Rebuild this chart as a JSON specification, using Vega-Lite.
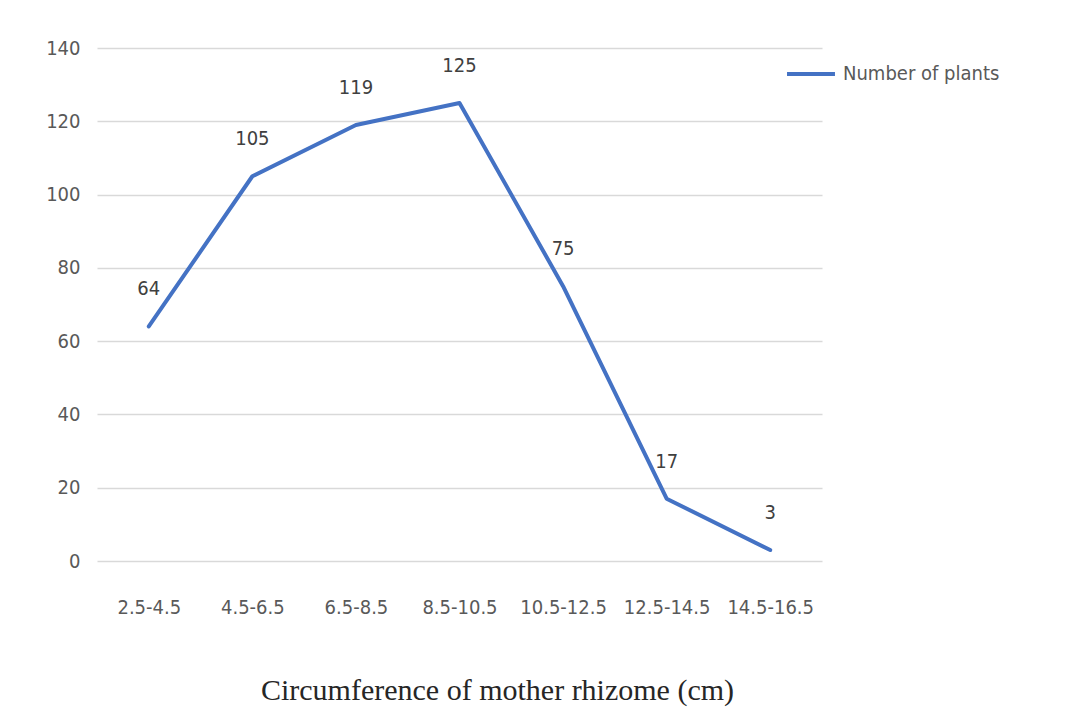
{
  "$schema": "https://vega.github.io/schema/vega-lite/v6.json",
  "width": 725,
  "height": 513,
  "autosize": {"type": "none"},
  "padding": {"left": 97, "top": 48, "right": 264, "bottom": 159},
  "background": "white",
  "config": {"view": {"stroke": null}},
  "data": {
    "values": [
      {"range": "2.5-4.5", "plants": 64, "series": "Number of plants"},
      {"range": "4.5-6.5", "plants": 105, "series": "Number of plants"},
      {"range": "6.5-8.5", "plants": 119, "series": "Number of plants"},
      {"range": "8.5-10.5", "plants": 125, "series": "Number of plants"},
      {"range": "10.5-12.5", "plants": 75, "series": "Number of plants"},
      {"range": "12.5-14.5", "plants": 17, "series": "Number of plants"},
      {"range": "14.5-16.5", "plants": 3, "series": "Number of plants"}
    ]
  },
  "encoding": {
    "x": {
      "field": "range",
      "type": "ordinal",
      "sort": null,
      "scale": {"type": "point", "padding": 0.5},
      "axis": {
        "title": "Circumference of mother rhizome (cm)",
        "titleFont": "Liberation Serif",
        "titleFontSize": 30,
        "titleFontWeight": "normal",
        "titleColor": "#262626",
        "titlePadding": 58,
        "titleX": 400,
        "labelAngle": 0,
        "labelFont": "DejaVu Sans Condensed, Lato",
        "labelFontSize": 20,
        "labelColor": "#595959",
        "labelPadding": 36,
        "domain": false,
        "ticks": false,
        "grid": false
      }
    },
    "y": {
      "field": "plants",
      "type": "quantitative",
      "scale": {"domain": [0, 140], "nice": false},
      "axis": {
        "title": null,
        "values": [0, 20, 40, 60, 80, 100, 120, 140],
        "labelFont": "DejaVu Sans Condensed, Lato",
        "labelFontSize": 20,
        "labelColor": "#595959",
        "labelPadding": 17,
        "domain": false,
        "ticks": false,
        "grid": true,
        "gridColor": "#d9d9d9",
        "gridWidth": 1.5
      }
    }
  },
  "layer": [
    {
      "mark": {"type": "line", "strokeWidth": 4, "strokeCap": "round", "strokeJoin": "round"},
      "encoding": {
        "color": {
          "field": "series",
          "type": "nominal",
          "scale": {"range": ["#4472C4"]},
          "legend": {
            "title": null,
            "orient": "none",
            "legendX": 688,
            "legendY": 0,
            "symbolType": "stroke",
            "symbolSize": 2300,
            "symbolStrokeWidth": 4,
            "labelFont": "DejaVu Sans Condensed, Lato",
            "labelFontSize": 20,
            "labelColor": "#595959",
            "labelOffset": 6
          }
        }
      }
    },
    {
      "mark": {"type": "text", "dy": -37, "font": "DejaVu Sans Condensed, Lato", "fontSize": 20, "color": "#404040"},
      "encoding": {"text": {"field": "plants", "type": "quantitative"}}
    }
  ]
}
